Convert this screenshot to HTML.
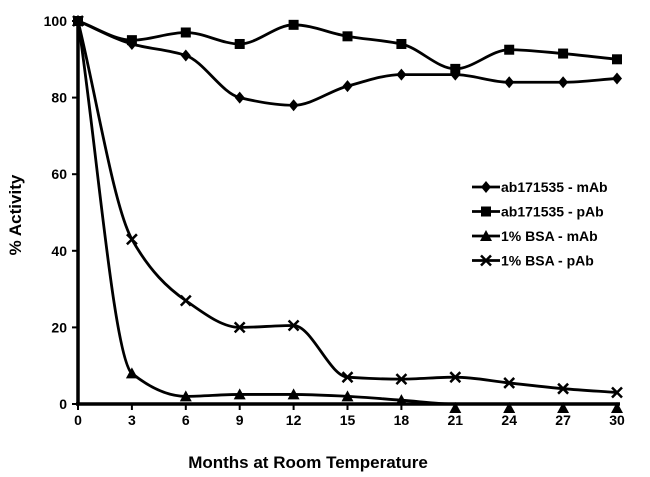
<!DOCTYPE html>
<html><head><meta charset="utf-8"><style>
body{margin:0;background:#fff}
svg{display:block;font-family:"Liberation Sans",Arial,sans-serif;font-weight:bold}
</style></head><body>
<svg id="c" width="650" height="477"></svg>
<script>
const months=[0,3,6,9,12,15,18,21,24,27,30];
const yTicks=[0,20,40,60,80,100];
const abMab=[100,94,91,80,78,83,86,86,84,84,85];
const abPab=[100,95,97,94,99,96,94,87.5,92.5,91.5,90];
const bsaMab=[100,8,2,2.5,2.5,2,1,0,0,0,0];
const bsaPab=[100,43,27,20,20.5,7,6.5,7,5.5,4,3];
const seriesNames=["ab171535 - mAb","ab171535 - pAb","1% BSA  - mAb","1% BSA  - pAb"];
const NS="http://www.w3.org/2000/svg",svg=document.getElementById('c');
const X=m=>78+m*(539/30), Y=v=>404-v*3.83;
function el(t,a,p){const e=document.createElementNS(NS,t);for(const k in a)e.setAttribute(k,a[k]);(p||svg).appendChild(e);return e;}
function path(vals){
 const p=vals.map((v,i)=>[X(months[i]),Y(v)]),n=p.length;
 const d=[],m=[];
 for(let i=0;i<n-1;i++)d.push((p[i+1][1]-p[i][1])/(p[i+1][0]-p[i][0]));
 for(let i=0;i<n;i++){
  if(i==0)m.push(d[0]);else if(i==n-1)m.push(d[n-2]);
  else if(d[i-1]*d[i]<=0)m.push(0);
  else m.push(2/(1/d[i-1]+1/d[i]));
 }
 let s=`M${p[0][0]},${p[0][1]}`;
 for(let i=0;i<n-1;i++){const h=(p[i+1][0]-p[i][0])/3;
  s+=`C${p[i][0]+h},${p[i][1]+m[i]*h} ${p[i+1][0]-h},${p[i+1][1]-m[i+1]*h} ${p[i+1][0]},${p[i+1][1]}`;}
 return s;
}
function marker(type,x,y,g){
 if(type==0)return el('path',{d:`M${x},${y-6}L${x+5},${y}L${x},${y+6}L${x-5},${y}Z`,fill:'#000'},g);
 if(type==1)return el('rect',{x:x-5,y:y-5,width:10,height:10,fill:'#000'},g);
 if(type==2)return el('path',{d:`M${x},${y-6}L${x+6},${y+5}L${x-6},${y+5}Z`,fill:'#000'},g);
 return el('path',{d:`M${x-5},${y-5}L${x+5},${y+5}M${x+5},${y-5}L${x-5},${y+5}`,stroke:'#000','stroke-width':2.5},g);
}
const ax=el('g',{});
el('line',{x1:78,y1:20,x2:78,y2:405,stroke:'#000','stroke-width':3.5},ax);
el('line',{x1:76,y1:404,x2:620,y2:404,stroke:'#000','stroke-width':3.5},ax);
months.forEach(m=>{el('line',{x1:X(m),y1:404,x2:X(m),y2:410,stroke:'#000','stroke-width':2},ax);
 const t=el('text',{x:X(m),y:425,'text-anchor':'middle','font-size':14},ax);t.textContent=m;
 });
yTicks.forEach(v=>{el('line',{x1:72,y1:Y(v),x2:78,y2:Y(v),stroke:'#000','stroke-width':2},ax);
 const t=el('text',{x:67,y:Y(v)+5,'text-anchor':'end','font-size':14},ax);t.textContent=v;
 });
const xt=el('text',{x:308,y:468,'text-anchor':'middle','font-size':17});xt.textContent='Months at Room Temperature';

const yt=el('text',{x:0,y:0,'text-anchor':'middle','font-size':17,transform:'translate(21,215) rotate(-90)'});yt.textContent='% Activity';

const all=[abMab,abPab,bsaMab,bsaPab];
all.forEach((vals,s)=>{const g=el('g',{});
 
 el('path',{d:path(vals),fill:'none',stroke:'#000','stroke-width':2.8},g);
 vals.forEach((v,i)=>{const off=(s==2&&v==0&&i>0)?4:0;marker(s,X(months[i]),Y(v)+off,g);});
});
const lg=el('g',{});
seriesNames.forEach((n,s)=>{const y=187+s*24.5;const e=el('g',{},lg);
 
 el('line',{x1:472,y1:y,x2:500,y2:y,stroke:'#000','stroke-width':2.8},e);marker(s,486,y,e);
 const t=el('text',{x:501,y:y+5,'font-size':14,'xml:space':'preserve'},e);t.textContent=n;});
</script>
</body></html>
